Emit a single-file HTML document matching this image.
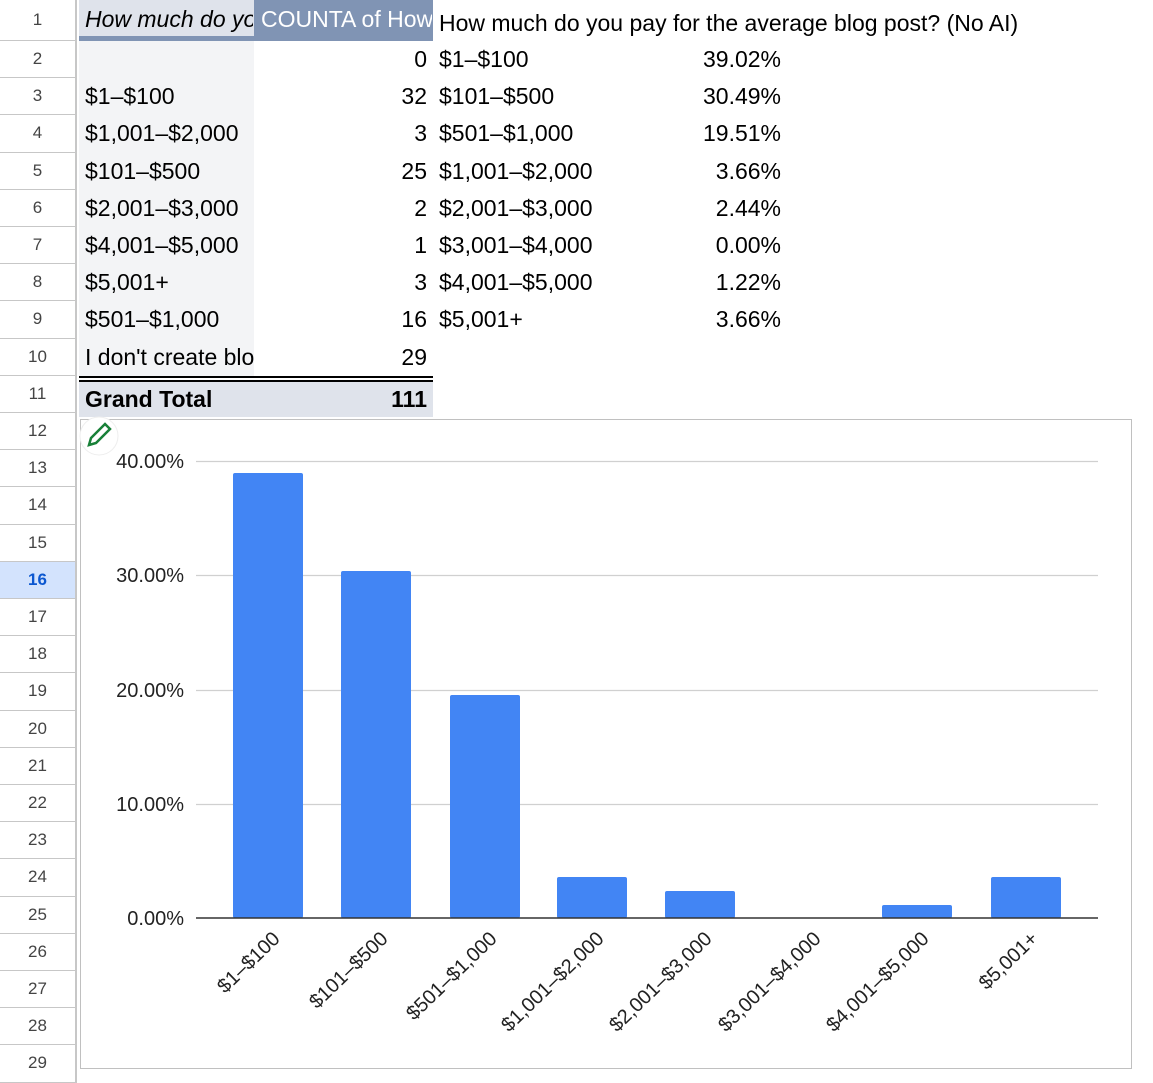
<!DOCTYPE html>
<html><head><style>
body{margin:0;width:1153px;height:1081px;overflow:hidden;background:#fff;font-family:"Liberation Sans",Arial,sans-serif;position:relative}
.rh{position:absolute;left:0;width:77px;border-right:2px solid #c7c7c7;border-bottom:1px solid #c7c7c7;text-align:center;color:#444;font-size:17px;box-sizing:border-box;background:#fff}
.c{position:absolute;font-size:23px;color:#000;white-space:nowrap;overflow:hidden;line-height:37px}
</style></head><body>
<div style="position:absolute;left:79px;top:0;width:175px;height:40px;background:#dfe3eb"></div>
<div style="position:absolute;left:79px;top:36px;width:175px;height:5px;background:#8094b4"></div>
<div style="position:absolute;left:254px;top:0;width:179px;height:41px;background:#8094b4"></div>
<div style="position:absolute;left:79px;top:41px;width:175px;height:335px;background:#f3f4f6"></div>
<div style="position:absolute;left:79px;top:376px;width:354px;height:2px;background:#000"></div>
<div style="position:absolute;left:79px;top:380px;width:354px;height:2px;background:#000"></div>
<div style="position:absolute;left:79px;top:382px;width:354px;height:35px;background:#dfe3eb"></div>
<div class="c" style="left:85px;top:0;width:168px;line-height:38px;font-style:italic">How much do you</div>
<div class="c" style="left:261px;top:0;width:171px;line-height:38px;color:#fff">COUNTA of How</div>
<div class="c" style="left:439px;top:5px">How much do you pay for the average blog post? (No AI)</div>
<div id="rows"></div>
<svg style="position:absolute;left:0;top:0" width="1153" height="1081">
<rect x="80.5" y="419.5" width="1051" height="649" fill="#fff" stroke="#c0c0c0"/>
<g stroke="#d0d0d0" stroke-width="1.2">
<line x1="196" x2="1098" y1="461.5" y2="461.5"/><line x1="196" x2="1098" y1="575.5" y2="575.5"/>
<line x1="196" x2="1098" y1="690.5" y2="690.5"/><line x1="196" x2="1098" y1="804.5" y2="804.5"/></g>
<g font-size="20" fill="#222" text-anchor="end" font-family="Liberation Sans, Arial, sans-serif">
<text x="184" y="468">40.00%</text><text x="184" y="582">30.00%</text><text x="184" y="697">20.00%</text><text x="184" y="811">10.00%</text><text x="184" y="925">0.00%</text></g>
<g fill="#4285f4">
<rect x="233" y="473" width="70" height="445" rx="2"/>
<rect x="341" y="571" width="70" height="347" rx="2"/>
<rect x="450" y="695" width="70" height="223" rx="2"/>
<rect x="557" y="877" width="70" height="41" rx="2"/>
<rect x="665" y="891" width="70" height="27" rx="2"/>
<rect x="882" y="905" width="70" height="13" rx="2"/>
<rect x="991" y="877" width="70" height="41" rx="2"/></g>
<line x1="196" x2="1098" y1="918" y2="918" stroke="#333" stroke-width="1.5"/>
<g font-size="20" fill="#222" text-anchor="end" font-family="Liberation Sans, Arial, sans-serif">
<text transform="translate(281,940) rotate(-44)">$1–$100</text>
<text transform="translate(389,940) rotate(-44)">$101–$500</text>
<text transform="translate(498,940) rotate(-44)">$501–$1,000</text>
<text transform="translate(605,940) rotate(-44)">$1,001–$2,000</text>
<text transform="translate(713,940) rotate(-44)">$2,001–$3,000</text>
<text transform="translate(822,940) rotate(-44)">$3,001–$4,000</text>
<text transform="translate(930,940) rotate(-44)">$4,001–$5,000</text>
<text transform="translate(1039,940) rotate(-44)">$5,001+</text></g>
<circle cx="99" cy="436" r="19" fill="#fff" stroke="#eee"/>
<path d="M89 445 L91 438 L105 424 L110 429 L96 443 Z" fill="#fff" stroke="#188038" stroke-width="2.5"/>
</svg>
<script>
var L=["","$1–$100","$1,001–$2,000","$101–$500","$2,001–$3,000","$4,001–$5,000","$5,001+","$501–$1,000","I don't create blo"];
var N=["0","32","3","25","2","1","3","16","29"];
var D=["$1–$100","$101–$500","$501–$1,000","$1,001–$2,000","$2,001–$3,000","$3,001–$4,000","$4,001–$5,000","$5,001+"];
var P=["39.02%","30.49%","19.51%","3.66%","2.44%","0.00%","1.22%","3.66%"];
var h="";
var R=37.2;
h+='<div class="rh" style="top:0;height:41px;line-height:40px">1</div>';
for(var r=2;r<=29;r++){var t=41+(r-2)*R;h+='<div class="rh" style="top:'+t+'px;height:'+R+'px;line-height:36px;'+(r==16?'background:#d3e3fd;color:#0b57d0;font-weight:bold':'')+'">'+r+'</div>';}
for(var i=0;i<9;i++){var t=41+i*R;
h+='<div class="c" style="left:85px;top:'+t+'px;width:169px">'+L[i]+'</div>';
h+='<div class="c" style="left:254px;top:'+t+'px;width:173px;text-align:right">'+N[i]+'</div>';
if(i<8){h+='<div class="c" style="left:439px;top:'+t+'px">'+D[i]+'</div><div class="c" style="left:640px;top:'+t+'px;width:141px;text-align:right">'+P[i]+'</div>';}}
h+='<div class="c" style="left:85px;top:381px;font-weight:bold">Grand Total</div><div class="c" style="left:254px;top:381px;width:173px;text-align:right;font-weight:bold">111</div>';
document.getElementById("rows").innerHTML=h;
</script>
</body></html>
